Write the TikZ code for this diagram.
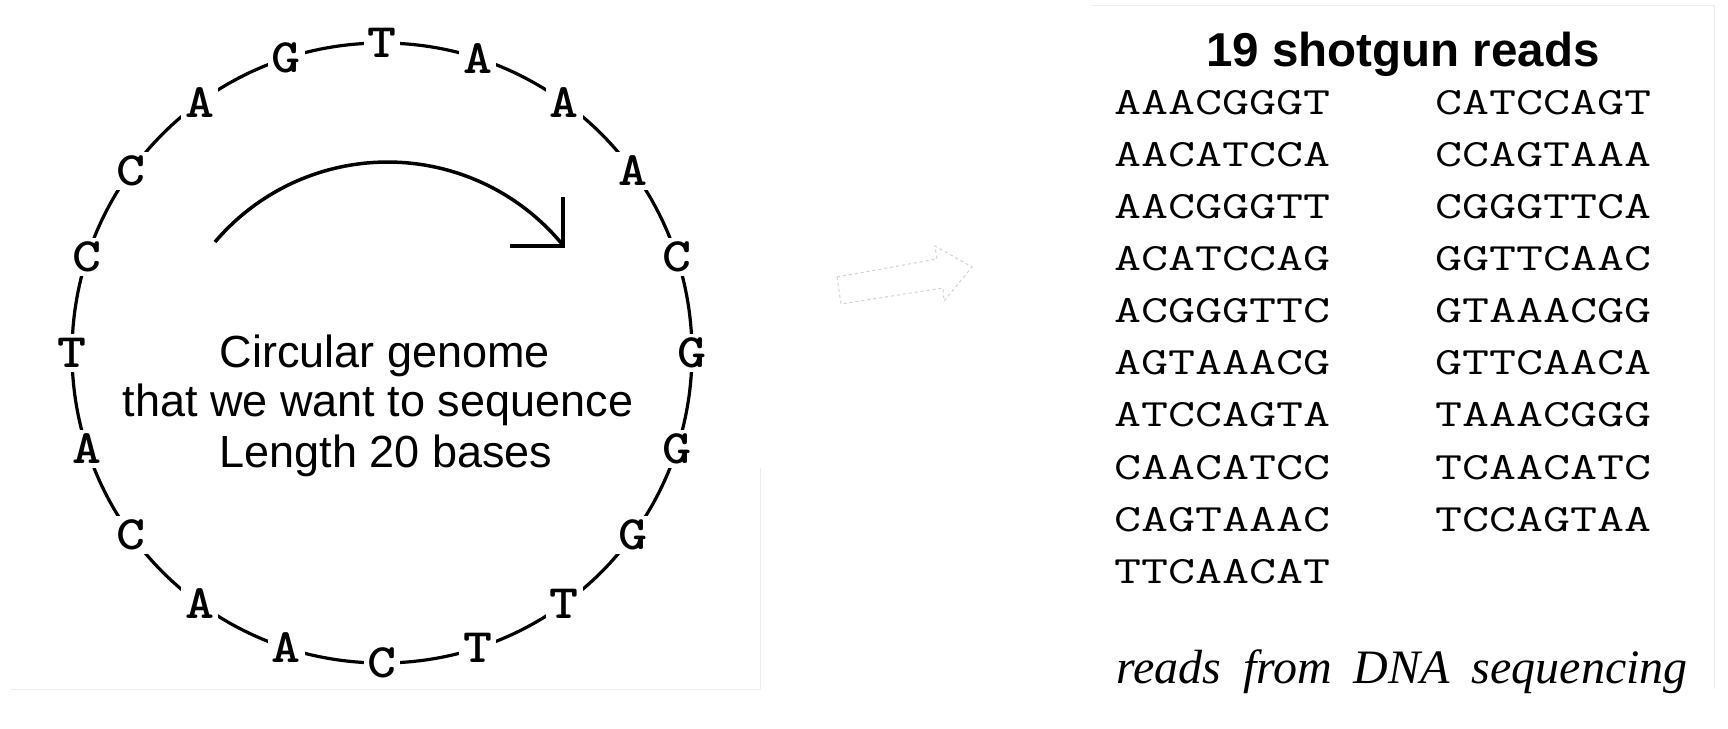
\documentclass[tikz,border=0pt]{standalone}
\usepackage{graphicx}
\usepackage{fontspec}
\setmainfont{Liberation Sans}
\newfontfamily\cgSerif{Liberation Serif}
\newcommand\cgBaseFont{\ttfamily\bfseries\fontsize{48}{48}\selectfont}
\newcommand\cgReadFont{\ttfamily\mdseries\fontsize{38.6}{38.6}\selectfont}
\newcommand\cgStretch[2]{\scalebox{#1}[1]{#2}}
\usetikzlibrary{calc}
\tikzset{
  baseletter/.style={font=\cgBaseFont, fill=white, inner sep=4pt},
  readtxt/.style={font=\cgReadFont, anchor=base west, inner sep=0pt},
  captxt/.style={font=\fontsize{45}{45}\selectfont, anchor=base, inner sep=0pt},
  ringline/.style={line width=3.2pt},
  arcline/.style={line width=3.5pt},
  ghost/.style={draw=black!18, line width=1pt, dash pattern=on 3pt off 3pt},
  frameline/.style={draw=black!7, line width=1pt}
}
\begin{document}
\begin{tikzpicture}[x=1pt, y=-1pt]
\useasboundingbox (0,0) rectangle (1728,728);
% faint panel edges
\draw[frameline] (11,689) -- (760,689) -- (760,468);
\draw[frameline] (1091,5) -- (1714,5) -- (1714,689);
% circular genome
\coordinate (gc) at (382,353);
\draw[ringline] (gc) circle[radius=310pt];
\foreach \L [count=\i from 0] in {T,A,A,A,C,G,G,G,T,T,C,A,A,C,A,T,C,C,A,G}
  \node[baseletter] (b\i) at ($(gc)+({90-18*\i}:310pt)$) {\cgStretch{1.15}{\L}};
% curved arrow
\coordinate (as) at (215,242);
\coordinate (ae) at (563,246);
\coordinate (at) at (563,197);
\coordinate (al) at (510,246);
\draw[arcline] (as) arc[start angle=139.7, end angle=39.3, radius=226.4pt];
\draw[arcline] (at) -- (ae) -- (al);
% central text
\node[captxt] (l1) at (385,367) {Circular genome};
\node[captxt] (l2) at (378,416) {that we want to sequence};
\node[captxt] (l3) at (386,467) {Length 20 bases};
% ghost block arrow
\coordinate (g1) at (837,277);
\coordinate (g2) at (937,259);
\coordinate (g3) at (935,246);
\coordinate (g4) at (972,267);
\coordinate (g5) at (944,301);
\coordinate (g6) at (943,288);
\coordinate (g7) at (841,304);
\draw[ghost] (g1) -- (g2) -- (g3) -- (g4) -- (g5) -- (g6) -- (g7) -- cycle;
% right panel
\node[font=\bfseries\fontsize{47.5}{47.5}\selectfont, anchor=base, inner sep=0pt] (title) at (1403,66.7) {19 shotgun reads};
\foreach \R [count=\i from 0] in {AAACGGGT,AACATCCA,AACGGGTT,ACATCCAG,ACGGGTTC,AGTAAACG,ATCCAGTA,CAACATCC,CAGTAAAC,TTCAACAT}
  \node[readtxt] (ra\i) at (1114,{114.3+52.1*\i}) {\cgStretch{1.36}{\R}};
\foreach \R [count=\i from 0] in {CATCCAGT,CCAGTAAA,CGGGTTCA,GGTTCAAC,GTAAACGG,GTTCAACA,TAAACGGG,TCAACATC,TCCAGTAA}
  \node[readtxt] (rb\i) at (1435,{114.3+52.1*\i}) {\cgStretch{1.36}{\R}};
\node[font=\cgSerif\itshape\fontsize{48}{48}\selectfont, anchor=base west, inner sep=0pt] (foot) at (1116,683)
  {reads\hspace{22pt}from\hspace{22pt}DNA\hspace{22pt}sequencing};
\end{tikzpicture}
\end{document}
